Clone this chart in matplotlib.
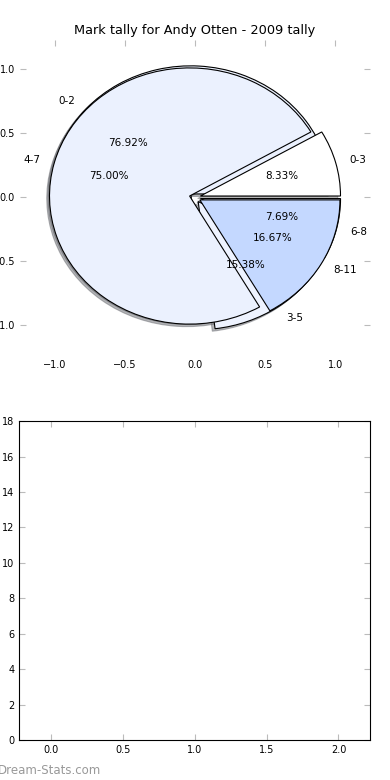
import matplotlib
matplotlib.use("Agg")
import matplotlib.pyplot as plt

# first tally (drawn underneath)
labels_a = ["0-2", "3-5", "6-8"]
values_a = [10, 2, 1]
colors_a = ["#ebf1fe", "#eef3ff", "#dfe8fd"]
explode_a = [0.04, 0.04, 0.04]

# second tally (drawn on top)
labels_b = ["0-3", "4-7", "8-11"]
values_b = [1, 9, 2]
colors_b = ["#ffffff", "#ebf1fe", "#c4d8ff"]
explode_b = [0.04, 0.04, 0.04]

yticks_bottom = list(range(0, 19, 2))
xticks_bottom = [0.0, 0.5, 1.0, 1.5, 2.0]

plt.rcParams['font.family'] = 'DejaVu Sans'
fig = plt.figure(figsize=(3.9, 7.8), dpi=100)

ax1 = fig.add_axes([0.051, 0.545, 0.898, 0.404])
for vals, labs, cols, exp in [(values_a, labels_a, colors_a, explode_a),
                              (values_b, labels_b, colors_b, explode_b)]:
    ax1.pie(vals, labels=labs, colors=cols, explode=exp,
            autopct='%1.2f%%', frame=True,
            shadow={'ox': -0.014, 'oy': -0.014, 'shade': 0.55},
            wedgeprops={'edgecolor': 'black', 'linewidth': 0.8},
            textprops={'fontsize': 7.5})
ax1.set_aspect('auto')
ax1.set_xlim(-1.25, 1.25)
ax1.set_ylim(-1.23, 1.23)
ax1.set_xticks([-1.0, -0.5, 0.0, 0.5, 1.0])
ax1.set_yticks([-1.0, -0.5, 0.0, 0.5, 1.0])
for s in ax1.spines.values():
    s.set_visible(False)
ax1.tick_params(direction='in', length=4, color='#bbbbbb', labelsize=7,
                top=True, right=True, bottom=False, left=True)
ax1.set_title('Mark tally for Andy Otten - 2009 tally', fontsize=9.3, pad=4)

ax2 = fig.add_axes([0.049, 0.0513, 0.9, 0.4087])
ax2.set_xlim(-0.22, 2.22)
ax2.set_ylim(0, 18)
ax2.set_xticks(xticks_bottom)
ax2.set_yticks(yticks_bottom)
ax2.tick_params(direction='in', length=4, color='#bbbbbb', labelsize=7,
                top=True, right=True)

fig.text(-0.005, 0.008, 'Dream-Stats.com', color='#999999', fontsize=8.5)

fig.savefig('out.png', dpi=100)
